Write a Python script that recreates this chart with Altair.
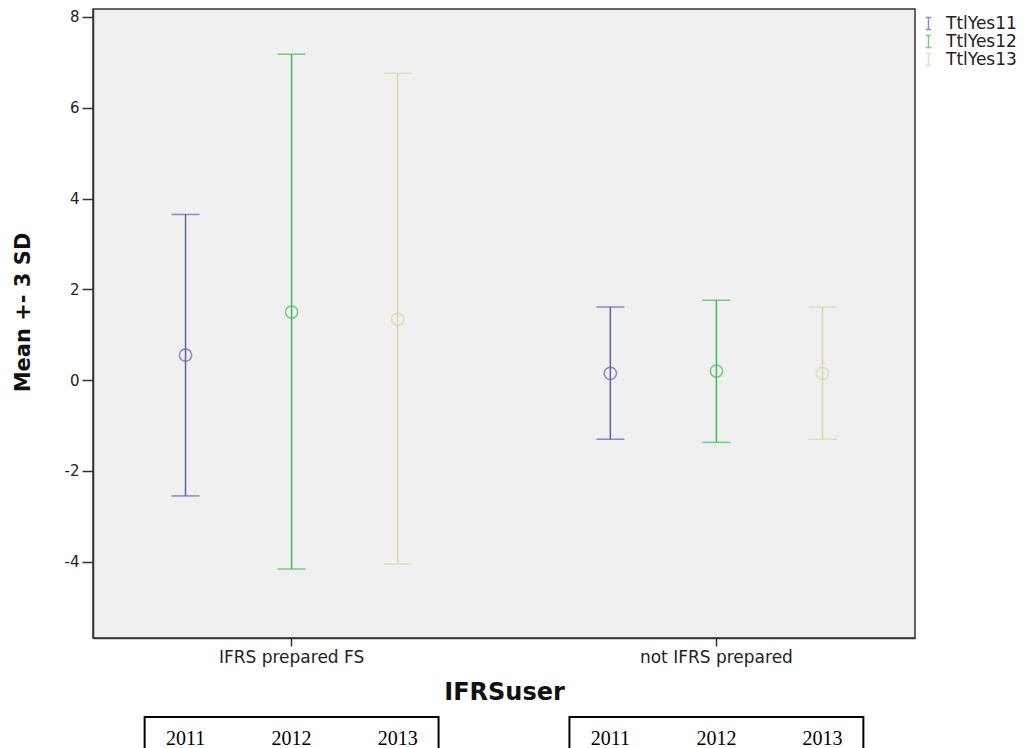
import altair as alt
import pandas as pd

groups = ["IFRS prepared FS", "not IFRS prepared"]
series = ["TtlYes11", "TtlYes12", "TtlYes13"]
years = ["2011", "2012", "2013"]

mean_ifrs = [0.55, 1.50, 1.34]
upper_ifrs = [3.65, 7.18, 6.76]
lower_ifrs = [-2.55, -4.16, -4.05]
mean_not = [0.15, 0.20, 0.15]
upper_not = [1.61, 1.76, 1.61]
lower_not = [-1.30, -1.37, -1.30]

y_ticks = [-4, -2, 0, 2, 4, 6, 8]
colors = ["#5a62a8", "#47b85a", "#d8d5a6"]

rows = []
for g, ms, us, ls in [(groups[0], mean_ifrs, upper_ifrs, lower_ifrs),
                      (groups[1], mean_not, upper_not, lower_not)]:
    for s, m, u, l in zip(series, ms, us, ls):
        rows.append({"grp": g, "series": s, "mean": m, "upper": u, "lower": l})
df = pd.DataFrame(rows)

year_rows = [{"grp": g, "series": s, "year": yr} for g in groups for s, yr in zip(series, years)]
df_years = pd.DataFrame(year_rows)
df_boxes = pd.DataFrame({"grp": groups})

FONT = "DejaVu Sans"

x_enc = alt.X(
    "grp:N", sort=groups,
    scale=alt.Scale(domain=groups, paddingInner=0.065, paddingOuter=0),
    axis=alt.Axis(title="IFRSuser", labelAngle=0, labelFont=FONT, labelFontSize=17,
                  labelColor="#222222", tickSize=8, labelPadding=3,
                  titleFont=FONT, titleFontSize=24, titleFontWeight="bold",
                  titleColor="#111111", titleY=54, titleBaseline="middle",
                  domainColor="#333333", domainWidth=1.5, tickColor="#333333",
                  tickWidth=1.5),
)
xo_enc = alt.XOffset("series:N", sort=series,
                     scale=alt.Scale(domain=series, paddingInner=0, paddingOuter=0.3725))
color_enc = alt.Color(
    "series:N", sort=series,
    scale=alt.Scale(domain=series, range=colors),
    legend=alt.Legend(title=None, orient="none", legendX=827, legendY=6,
                      symbolType="M-0.45,-1H0.45M0,-1V1M-0.45,1H0.45",
                      symbolSize=144, symbolStrokeWidth=1.5,
                      labelFont=FONT, labelFontSize=17, labelColor="#222222",
                      labelOffset=9, rowPadding=-2, padding=0),
)
y_scale = alt.Scale(domain=[-5.68, 8.176], nice=False, zero=False)
y_axis = alt.Axis(title="Mean +- 3 SD", values=y_ticks, grid=False, labelFont=FONT,
                  labelFontSize=15, labelColor="#222222", tickSize=11, labelPadding=3,
                  labelExpr="datum.value < 0 ? '-' + abs(datum.value) : datum.label",
                  titleFont=FONT, titleFontSize=21, titleFontWeight="bold",
                  titleColor="#111111", titleX=-70, titleY=303, titleBaseline="middle",
                  titleAlign="center",
                  domainColor="#333333", domainWidth=1.5, tickColor="#333333",
                  tickWidth=1.5)

base = alt.Chart(df)

rule = base.mark_rule(strokeWidth=1.5).encode(
    x=x_enc, xOffset=xo_enc,
    y=alt.Y("lower:Q", scale=y_scale, axis=y_axis), y2="upper:Q",
    color=color_enc,
)
cap_hi = base.mark_tick(size=28, thickness=1.5).encode(
    x=x_enc, xOffset=xo_enc, y=alt.Y("upper:Q", scale=y_scale), color=color_enc,
)
cap_lo = base.mark_tick(size=28, thickness=1.5).encode(
    x=x_enc, xOffset=xo_enc, y=alt.Y("lower:Q", scale=y_scale), color=color_enc,
)
pts = base.mark_point(shape="circle", filled=False, size=150, strokeWidth=1.5).encode(
    x=x_enc, xOffset=xo_enc, y=alt.Y("mean:Q", scale=y_scale), color=color_enc,
)

boxes = alt.Chart(df_boxes).mark_rect(
    fillOpacity=0, stroke="black", strokeWidth=2, width=alt.RelativeBandSize(band=0.74)
).encode(
    x=x_enc, y=alt.value(708), y2=alt.value(800),
)
year_text = alt.Chart(df_years).mark_text(
    font="Liberation Serif", fontSize=20, baseline="top", color="#000000"
).encode(
    x=x_enc, xOffset=xo_enc, y=alt.value(720), text="year:N",
)

chart = alt.layer(rule, cap_hi, cap_lo, pts, boxes, year_text).properties(
    width=822, height=629,
    autosize=alt.AutoSizeParams(type="none"),
    padding={"left": 85, "top": 1, "right": 111, "bottom": 110},
    background="white",
).configure_view(
    fill="#f0f0f0", stroke="#333333", strokeWidth=1.5,
)

chart.save("out.html", embed_options={"renderer": "svg", "actions": False})
